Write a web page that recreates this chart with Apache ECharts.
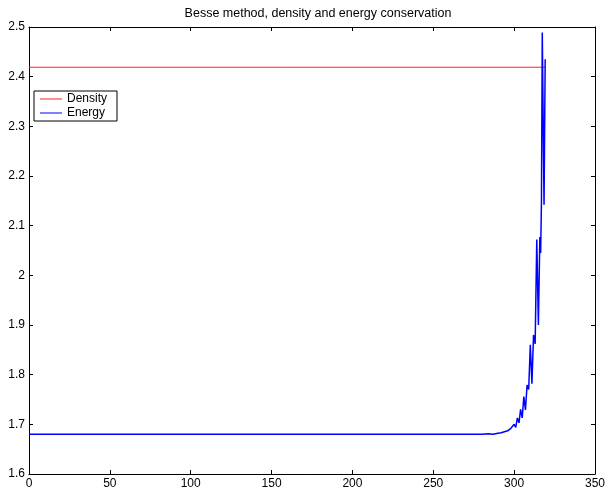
<!DOCTYPE html>
<html><head><meta charset="utf-8">
<script src="https://cdn.jsdelivr.net/npm/echarts@6/dist/echarts.min.js"></script>
<style>html,body{margin:0;padding:0;background:#fff}#c{width:608px;height:492px}</style>
</head><body><div id="c"></div>
<script>
const titleText = "Besse method, density and energy conservation";
const seriesNames = ["Density", "Energy"];
const densityData = [[0, 2.419], [319.2, 2.419]];
const energyData = [
  [0,1.680],[20,1.680],[40,1.680],[60,1.680],[80,1.680],[100,1.680],[120,1.680],[140,1.680],[160,1.680],[180,1.680],
  [200,1.680],[220,1.680],[240,1.680],[260,1.680],[280,1.680],[284,1.681],[287,1.680],[290,1.682],
  [292,1.683],[293,1.682],[294,1.685],[295,1.683],[296,1.687],[297,1.685],[298,1.692],[299,1.688],[300,1.700],[301,1.694],
  [302,1.713],[303,1.703],[304,1.730],[305,1.713],[306,1.756],[307,1.729],[308,1.779],[309,1.770],[310,1.860],[311,1.782],
  [312,1.880],[313,1.862],[314,2.072],[315,1.900],[315.9,2.077],[316.4,2.045],[316.9,2.150],[317.4,2.489],[318.5,2.142],[319.2,2.435]
];
const xTicks = {min: 0, max: 350, interval: 50};
const yTicks = {min: 1.6, max: 2.5, interval: 0.1};

const font = 'Liberation Sans, Arial, Helvetica, sans-serif';
const chart = echarts.init(document.getElementById('c'), null, {renderer: 'canvas'});
const axisCommon = {
  axisLine: {show: true, onZero: false, lineStyle: {color: '#000', width: 1}},
  axisTick: {show: true, inside: true, length: 4, lineStyle: {color: '#000'}},
  splitLine: {show: false}
};
chart.setOption({
  animation: false,
  backgroundColor: '#fff',
  title: {text: titleText, left: 313, textAlign: 'center', top: 2,
    textStyle: {fontFamily: font, fontSize: 12.5, fontWeight: 'normal', color: '#000'}},
  grid: {left: 29, right: 11, top: 27, bottom: 18, containLabel: false},
  legend: {
    data: seriesNames, orient: 'vertical', left: 34, top: 91,
    itemWidth: 22, itemHeight: 1, itemGap: 2, icon: 'rect',
    padding: [2, 10, 2, 6],
    borderColor: '#000', borderWidth: 1, backgroundColor: '#fff',
    textStyle: {fontFamily: font, fontSize: 12, color: '#000'}
  },
  xAxis: [
    Object.assign({type: 'value', position: 'bottom', min: xTicks.min, max: xTicks.max, interval: xTicks.interval,
      axisLabel: {fontFamily: font, fontSize: 12, color: '#000', margin: 4}}, axisCommon),
    Object.assign({type: 'value', position: 'top', min: xTicks.min, max: xTicks.max, interval: xTicks.interval,
      axisLabel: {show: false}}, axisCommon)
  ],
  yAxis: [
    Object.assign({type: 'value', position: 'left', min: yTicks.min, max: yTicks.max, interval: yTicks.interval,
      axisLabel: {fontFamily: font, fontSize: 12, color: '#000', margin: 4,
        formatter: v => String(Math.round(v * 10) / 10)}}, axisCommon),
    Object.assign({type: 'value', position: 'right', min: yTicks.min, max: yTicks.max, interval: yTicks.interval,
      axisLabel: {show: false}}, axisCommon)
  ],
  series: [
    {name: seriesNames[0], type: 'line', data: densityData, showSymbol: false, symbol: 'none',
      lineStyle: {color: '#ff2020', width: 1}, itemStyle: {color: '#ff2020'}},
    {name: seriesNames[1], type: 'line', data: energyData, showSymbol: false, symbol: 'none',
      lineStyle: {color: '#0000ff', width: 1.5}, itemStyle: {color: '#0000ff'}}
  ]
});
</script></body></html>
